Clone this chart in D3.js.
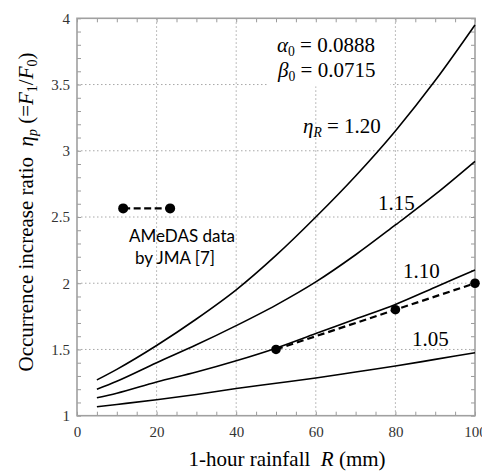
<!DOCTYPE html>
<html>
<head>
<meta charset="utf-8">
<script src="https://cdn.jsdelivr.net/npm/d3@7"></script>
<style>
  body { margin: 0; background: #fff; }
  svg { display: block; }
</style>
</head>
<body>
<script>
/* chart data */
var rainfall = [5, 10, 20, 30, 40, 50, 60, 70, 80, 90, 100];
var eta120 = [1.27, 1.35, 1.53, 1.73, 1.95, 2.21, 2.50, 2.81, 3.15, 3.53, 3.95];
var eta115 = [1.20, 1.26, 1.40, 1.535, 1.68, 1.835, 2.01, 2.215, 2.44, 2.67, 2.92];
var eta110 = [1.135, 1.17, 1.255, 1.33, 1.415, 1.51, 1.62, 1.73, 1.84, 1.97, 2.10];
var eta105 = [1.068, 1.085, 1.12, 1.16, 1.205, 1.245, 1.285, 1.33, 1.375, 1.425, 1.475];
var curveLabels = ["1.20", "1.15", "1.10", "1.05"];

var amedasR = [50, 80, 100];
var amedasEta = [1.5, 1.8, 2.0];

var xTicks = [0, 20, 40, 60, 80, 100];
var yTicks = [1, 1.5, 2, 2.5, 3, 3.5, 4];

/* size of the picture and plot box */
var width = 482;
var height = 473;
var plotLeft = 77, plotRight = 475, plotTop = 18.3, plotBottom = 415.7;
var serif = "'Liberation Serif', 'Times New Roman', serif";
var sans = "Lato, 'Open Sans', sans-serif";

var x = d3.scaleLinear().domain([0, 100]).range([plotLeft, plotRight]);
var y = d3.scaleLinear().domain([1, 4]).range([plotBottom, plotTop]);

var svg = d3.select("body").append("svg")
  .attr("width", width)
  .attr("height", height);

/* dotted grid at the major ticks */
var grid = svg.append("g")
  .attr("stroke", "#a8a8a8")
  .attr("stroke-width", 1)
  .attr("stroke-dasharray", "1.5,2.5");

grid.selectAll(".gx")
  .data(xTicks.slice(1, -1))
  .enter().append("line")
  .attr("x1", function(d) { return x(d); })
  .attr("x2", function(d) { return x(d); })
  .attr("y1", plotTop)
  .attr("y2", plotBottom);

grid.selectAll(".gy")
  .data(yTicks.slice(1, -1))
  .enter().append("line")
  .attr("x1", plotLeft)
  .attr("x2", plotRight)
  .attr("y1", function(d) { return y(d); })
  .attr("y2", function(d) { return y(d); });

/* white box behind the parameter text */
svg.append("rect")
  .attr("x", 268)
  .attr("y", plotTop + 1)
  .attr("width", 122)
  .attr("height", 67)
  .attr("fill", "#fff");

/* minor ticks, pointing inward on all four sides */
var tickColor = "#9a9a9a";
var xMinor = d3.range(0, 101, 5);
var yMinor = d3.range(1, 4.001, 0.1);

function styleTicks(g) {
  g.select(".domain").remove();
  g.selectAll("line").attr("stroke", tickColor).attr("stroke-width", 1);
}

svg.append("g")
  .attr("transform", "translate(0," + plotBottom + ")")
  .call(d3.axisBottom(x).tickValues(xMinor).tickSize(-4).tickFormat(""))
  .call(styleTicks);
svg.append("g")
  .attr("transform", "translate(0," + plotTop + ")")
  .call(d3.axisTop(x).tickValues(xMinor).tickSize(-4).tickFormat(""))
  .call(styleTicks);
svg.append("g")
  .attr("transform", "translate(" + plotLeft + ",0)")
  .call(d3.axisLeft(y).tickValues(yMinor).tickSize(-4).tickFormat(""))
  .call(styleTicks);
svg.append("g")
  .attr("transform", "translate(" + plotRight + ",0)")
  .call(d3.axisRight(y).tickValues(yMinor).tickSize(-4).tickFormat(""))
  .call(styleTicks);

/* tick labels */
function styleLabels(g) {
  g.attr("font-family", serif).attr("font-size", 15);
  g.select(".domain").remove();
  g.selectAll("line").remove();
  g.selectAll("text").attr("fill", "#333");
}

svg.append("g")
  .attr("transform", "translate(0," + plotBottom + ")")
  .call(d3.axisBottom(x).tickValues(xTicks).tickSize(0).tickPadding(10.5)
    .tickFormat(function(d) { return String(d); }))
  .call(styleLabels);
svg.append("g")
  .attr("transform", "translate(" + plotLeft + ",0)")
  .call(d3.axisLeft(y).tickValues(yTicks).tickSize(0).tickPadding(7)
    .tickFormat(function(d) { return String(d); }))
  .call(styleLabels);

/* plot frame */
svg.append("rect")
  .attr("x", plotLeft)
  .attr("y", plotTop)
  .attr("width", plotRight - plotLeft)
  .attr("height", plotBottom - plotTop)
  .attr("fill", "none")
  .attr("stroke", "#a0a0a0")
  .attr("stroke-width", 1.6);

/* the four eta_R curves */
var series = [eta120, eta115, eta110, eta105];
var line = d3.line()
  .x(function(d, i) { return x(rainfall[i]); })
  .y(function(d) { return y(d); })
  .curve(d3.curveMonotoneX);

svg.selectAll(".curve")
  .data(series)
  .enter().append("path")
  .attr("class", "curve")
  .attr("d", line)
  .attr("fill", "none")
  .attr("stroke", "#000")
  .attr("stroke-width", 1.6);

/* AMeDAS observed points */
var obs = amedasR.map(function(r, i) { return [r, amedasEta[i]]; });
svg.append("path")
  .datum(obs)
  .attr("d", d3.line()
    .x(function(d) { return x(d[0]); })
    .y(function(d) { return y(d[1]); }))
  .attr("fill", "none")
  .attr("stroke", "#000")
  .attr("stroke-width", 2.2)
  .attr("stroke-dasharray", "7,4");
svg.selectAll(".obs")
  .data(obs)
  .enter().append("circle")
  .attr("cx", function(d) { return x(d[0]); })
  .attr("cy", function(d) { return y(d[1]); })
  .attr("r", 4.8)
  .attr("fill", "#000");

/* legend for the observed data */
var legendPts = [[11.6, 2.565], [23.4, 2.565]];
svg.append("line")
  .attr("x1", x(legendPts[0][0])).attr("y1", y(legendPts[0][1]))
  .attr("x2", x(legendPts[1][0])).attr("y2", y(legendPts[1][1]))
  .attr("stroke", "#000")
  .attr("stroke-width", 2.2)
  .attr("stroke-dasharray", "7,3.5");
svg.selectAll(".lg")
  .data(legendPts)
  .enter().append("circle")
  .attr("cx", function(d) { return x(d[0]); })
  .attr("cy", function(d) { return y(d[1]); })
  .attr("r", 5)
  .attr("fill", "#000");

svg.append("text")
  .attr("x", 182).attr("y", 242)
  .attr("text-anchor", "middle")
  .attr("font-family", sans).attr("font-size", 17)
  .text("AMeDAS data");
svg.append("text")
  .attr("x", 175).attr("y", 264)
  .attr("text-anchor", "middle")
  .attr("font-family", sans).attr("font-size", 17)
  .text("by JMA [7]");

/* parameter text */
function subText(g, px, py, greek, sub, rest, size) {
  var t = g.append("text")
    .attr("font-family", serif)
    .attr("x", px).attr("y", py)
    .attr("font-size", size);
  t.append("tspan").attr("font-style", "italic").text(greek);
  t.append("tspan").attr("font-size", size * 0.65).attr("dy", 4).text(sub);
  t.append("tspan").attr("dy", -4).text(rest);
  return t;
}
subText(svg, 277, 52, "\u03b1", "0", " = 0.0888", 21);
subText(svg, 278, 77, "\u03b2", "0", " = 0.0715", 21);
var etaLabel = subText(svg, 303, 133, "\u03b7", "R", " = 1.20", 21);
etaLabel.select("tspan:nth-child(2)").attr("font-style", "italic");

/* curve labels */
var labelPos = [null, [378, 210], [403, 278], [412, 346]];
labelPos.forEach(function(p, i) {
  if (!p) return;
  svg.append("text")
    .attr("font-family", serif)
    .attr("x", p[0]).attr("y", p[1])
    .attr("font-size", 21)
    .text(curveLabels[i]);
});

/* axis titles */
var xt = svg.append("text")
  .attr("font-family", serif)
  .attr("x", 287).attr("y", 466)
  .attr("text-anchor", "middle")
  .attr("font-size", 21);
xt.append("tspan").text("1-hour rainfall\u00a0\u00a0");
xt.append("tspan").attr("font-style", "italic").text("R");
xt.append("tspan").text(" (mm)");

var yt = svg.append("text")
  .attr("font-family", serif)
  .attr("transform", "translate(33,212) rotate(-90)")
  .attr("text-anchor", "middle")
  .attr("font-size", 21);
yt.append("tspan").text("Occurrence increase ratio\u00a0\u00a0");
yt.append("tspan").attr("font-style", "italic").text("\u03b7");
yt.append("tspan").attr("font-style", "italic").attr("font-size", 14).attr("dy", 4).text("p");
yt.append("tspan").attr("dy", -4).text(" (=");
yt.append("tspan").attr("font-style", "italic").text("F");
yt.append("tspan").attr("font-size", 14).attr("dy", 4).text("1");
yt.append("tspan").attr("dy", -4).text("/");
yt.append("tspan").attr("font-style", "italic").text("F");
yt.append("tspan").attr("font-size", 14).attr("dy", 4).text("0");
yt.append("tspan").attr("dy", -4).text(")");
</script>
</body>
</html>
